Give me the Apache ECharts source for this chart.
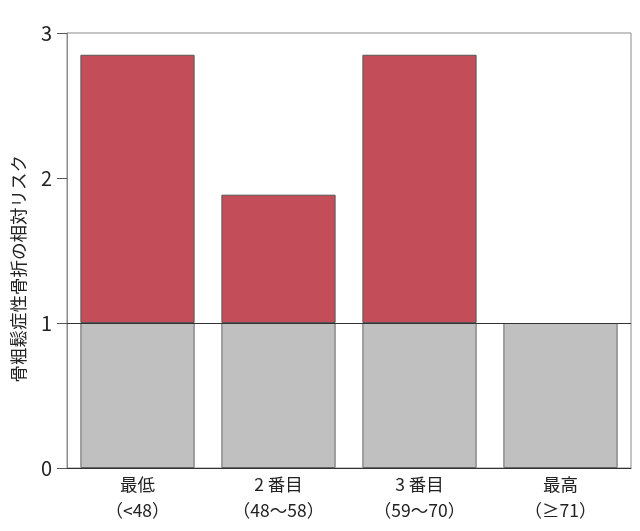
<!DOCTYPE html>
<html><head><meta charset="utf-8">
<script src="https://cdn.jsdelivr.net/npm/echarts@6/dist/echarts.min.js"></script>
<style>html,body{margin:0;padding:0;background:#fff}#c{width:640px;height:531px}</style>
</head><body><div id="c"></div>
<script>
var categories = ['最低\n（<48）', '2 番目\n（48〜58）', '3 番目\n（59〜70）', '最高\n（≥71）'];
var riskValues = [2.85, 1.885, 2.85, 1.0];
var baseline = 1;
var yTicks = [0, 1, 2, 3];
var yTitle = '骨粗鬆症性骨折の相対リスク';

var font = '"Noto Sans CJK JP", "Noto Sans", sans-serif';
var baseData = riskValues.map(function(){ return baseline; });
var excessData = riskValues.map(function(v){ return v > baseline ? +(v - baseline).toFixed(3) : null; });

var chart = echarts.init(document.getElementById('c'));
chart.setOption({
  animation: false,
  grid: { left: 67, right: 9, top: 33, bottom: 63, show: true, borderColor: '#8a8a8a', borderWidth: 1 },
  xAxis: {
    type: 'category', data: categories,
    axisLine: { lineStyle: { color: '#333', width: 1 } },
    axisTick: { show: false },
    axisLabel: { color: '#222', fontSize: 17.5, lineHeight: 26, margin: 3, fontFamily: font }
  },
  yAxis: {
    type: 'value', min: yTicks[0], max: yTicks[yTicks.length - 1], interval: 1,
    axisLine: { show: true, lineStyle: { color: '#8a8a8a' } },
    axisTick: { show: true, length: 10, lineStyle: { color: '#555' } },
    axisLabel: { color: '#222', fontSize: 20, margin: 15, fontFamily: font },
    splitLine: { show: false }
  },
  graphic: [{
    type: 'text', left: 10, top: 155,
    rotation: Math.PI / 2,
    style: { text: yTitle, fontSize: 17.5, fill: '#222', fontFamily: font }
  }],
  series: [
    {
      type: 'bar', stack: 'r', data: baseData, barCategoryGap: '19%',
      itemStyle: { color: '#c0c0c0', borderColor: '#666', borderWidth: 1 },
      markLine: {
        silent: true, symbol: 'none', label: { show: false },
        lineStyle: { color: '#333', type: 'solid', width: 1 },
        data: [{ yAxis: baseline }]
      }
    },
    {
      type: 'bar', stack: 'r', data: excessData, barCategoryGap: '19%',
      itemStyle: { color: '#c44d5a', borderColor: '#555', borderWidth: 1 }
    }
  ]
});
</script></body></html>
